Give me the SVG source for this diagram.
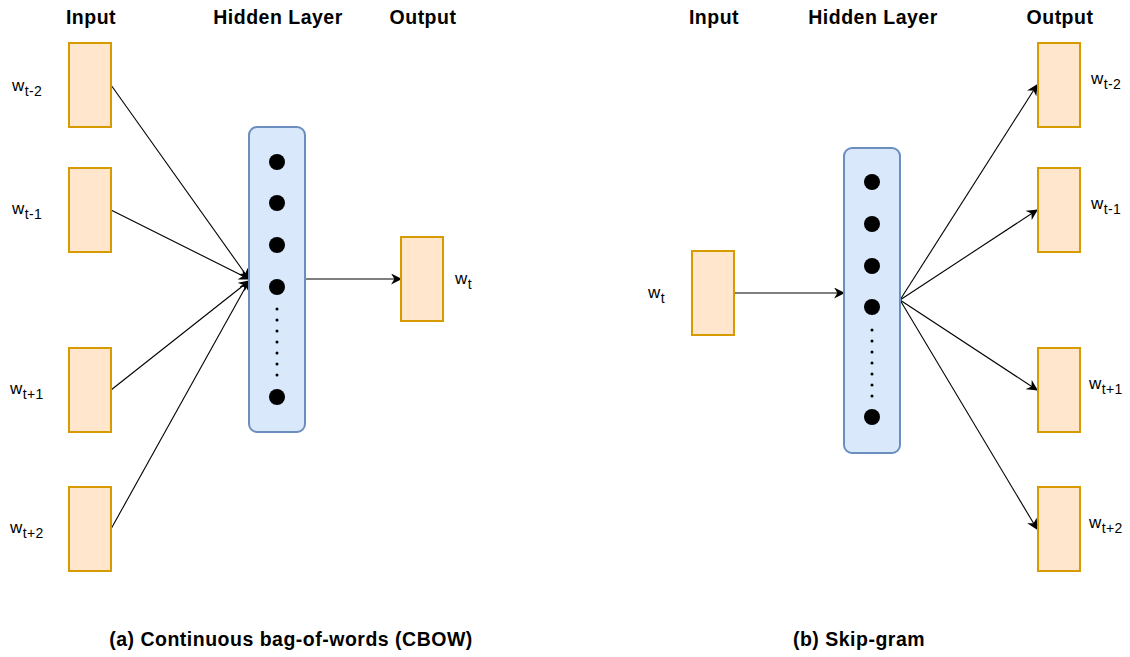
<svg xmlns="http://www.w3.org/2000/svg" width="1130" height="657" viewBox="0 0 1130 657">
<defs>
<style>
.box{fill:#ffe6cc;stroke:#d79b00;stroke-width:2}
.hid{fill:#dae8fc;stroke:#6c8ebf;stroke-width:2}
.hdr{font-family:"Liberation Sans",Arial,sans-serif;font-weight:bold;font-size:19.5px;letter-spacing:0.5px;fill:#000;text-anchor:middle}
.lbl{font-family:"Liberation Sans",Arial,sans-serif;font-size:17px;fill:#000;letter-spacing:0.4px}
.sub{font-size:14px}
.edge{stroke:#000;stroke-width:1.1;fill:none;marker-end:url(#arr)}
.big{fill:#000}
.sm{fill:#000}
</style>
<marker id="arr" viewBox="0 0 10 10" refX="9" refY="5" markerWidth="11" markerHeight="11" markerUnits="userSpaceOnUse" orient="auto">
<path d="M0,0 L10,5 L0,10 L3,5 Z" fill="#000"/>
</marker>
</defs>
<g id="headers">
<text class="hdr" x="91" y="24">Input</text>
<text class="hdr" x="278" y="24">Hidden Layer</text>
<text class="hdr" x="423" y="24">Output</text>
<text class="hdr" x="714" y="24">Input</text>
<text class="hdr" x="873" y="24">Hidden Layer</text>
<text class="hdr" x="1060" y="24">Output</text>
</g>
<g id="captions">
<text class="hdr" x="291" y="646">(a) Continuous bag-of-words (CBOW)</text>
<text class="hdr" x="859" y="646">(b) Skip-gram</text>
</g>
<g id="connectors">
<line class="edge" x1="111" y1="85" x2="249" y2="279"/>
<line class="edge" x1="111" y1="210" x2="249" y2="279"/>
<line class="edge" x1="111" y1="390" x2="249" y2="281"/>
<line class="edge" x1="111" y1="529" x2="249" y2="281"/>
<line class="edge" x1="305" y1="279" x2="401" y2="279"/>
<line class="edge" x1="735" y1="293" x2="844" y2="293"/>
<line class="edge" x1="900" y1="300" x2="1037" y2="85"/>
<line class="edge" x1="900" y1="300" x2="1037" y2="210"/>
<line class="edge" x1="900" y1="300" x2="1037" y2="390"/>
<line class="edge" x1="900" y1="300" x2="1037" y2="529"/>
</g>
<g id="cbow-in-1"><rect class="box" x="69" y="43" width="42" height="84"/><text class="lbl" x="12" y="91">w<tspan class="sub" dy="5">t-2</tspan></text></g>
<g id="cbow-in-2"><rect class="box" x="69" y="168" width="42" height="84"/><text class="lbl" x="12" y="214">w<tspan class="sub" dy="5">t-1</tspan></text></g>
<g id="cbow-in-3"><rect class="box" x="69" y="348" width="42" height="84"/><text class="lbl" x="10" y="394">w<tspan class="sub" dy="5">t+1</tspan></text></g>
<g id="cbow-in-4"><rect class="box" x="69" y="487" width="42" height="84"/><text class="lbl" x="10" y="533">w<tspan class="sub" dy="5">t+2</tspan></text></g>
<g id="cbow-hidden">
<rect class="hid" x="249" y="127" width="56" height="305" rx="8"/>
<circle class="big" cx="277" cy="162" r="8"/>
<circle class="big" cx="277" cy="203" r="8"/>
<circle class="big" cx="277" cy="245" r="8"/>
<circle class="big" cx="277" cy="287" r="8"/>
<circle class="big" cx="277" cy="397" r="8"/>
<circle class="sm" cx="277" cy="309" r="1.5"/>
<circle class="sm" cx="277" cy="320" r="1.5"/>
<circle class="sm" cx="277" cy="331" r="1.5"/>
<circle class="sm" cx="277" cy="342" r="1.5"/>
<circle class="sm" cx="277" cy="353" r="1.5"/>
<circle class="sm" cx="277" cy="364" r="1.5"/>
<circle class="sm" cx="277" cy="375" r="1.5"/>
</g>
<g id="cbow-out"><rect class="box" x="401" y="237" width="42" height="84"/><text class="lbl" x="455" y="284">w<tspan class="sub" dy="5">t</tspan></text></g>
<g id="sg-in"><rect class="box" x="692" y="251" width="42" height="84"/><text class="lbl" x="648" y="298">w<tspan class="sub" dy="5">t</tspan></text></g>
<g id="sg-hidden">
<rect class="hid" x="844" y="148" width="56" height="305" rx="8"/>
<circle class="big" cx="872" cy="182" r="8"/>
<circle class="big" cx="872" cy="224" r="8"/>
<circle class="big" cx="872" cy="266" r="8"/>
<circle class="big" cx="872" cy="307" r="8"/>
<circle class="big" cx="872" cy="417" r="8"/>
<circle class="sm" cx="872" cy="330" r="1.5"/>
<circle class="sm" cx="872" cy="341" r="1.5"/>
<circle class="sm" cx="872" cy="352" r="1.5"/>
<circle class="sm" cx="872" cy="363" r="1.5"/>
<circle class="sm" cx="872" cy="374" r="1.5"/>
<circle class="sm" cx="872" cy="385" r="1.5"/>
<circle class="sm" cx="872" cy="396" r="1.5"/>
</g>
<g id="sg-out-1"><rect class="box" x="1038" y="43" width="42" height="84"/><text class="lbl" x="1091" y="84">w<tspan class="sub" dy="5">t-2</tspan></text></g>
<g id="sg-out-2"><rect class="box" x="1038" y="168" width="42" height="84"/><text class="lbl" x="1091" y="209">w<tspan class="sub" dy="5">t-1</tspan></text></g>
<g id="sg-out-3"><rect class="box" x="1038" y="348" width="42" height="84"/><text class="lbl" x="1089" y="389">w<tspan class="sub" dy="5">t+1</tspan></text></g>
<g id="sg-out-4"><rect class="box" x="1038" y="487" width="42" height="84"/><text class="lbl" x="1089" y="528">w<tspan class="sub" dy="5">t+2</tspan></text></g>
</svg>
